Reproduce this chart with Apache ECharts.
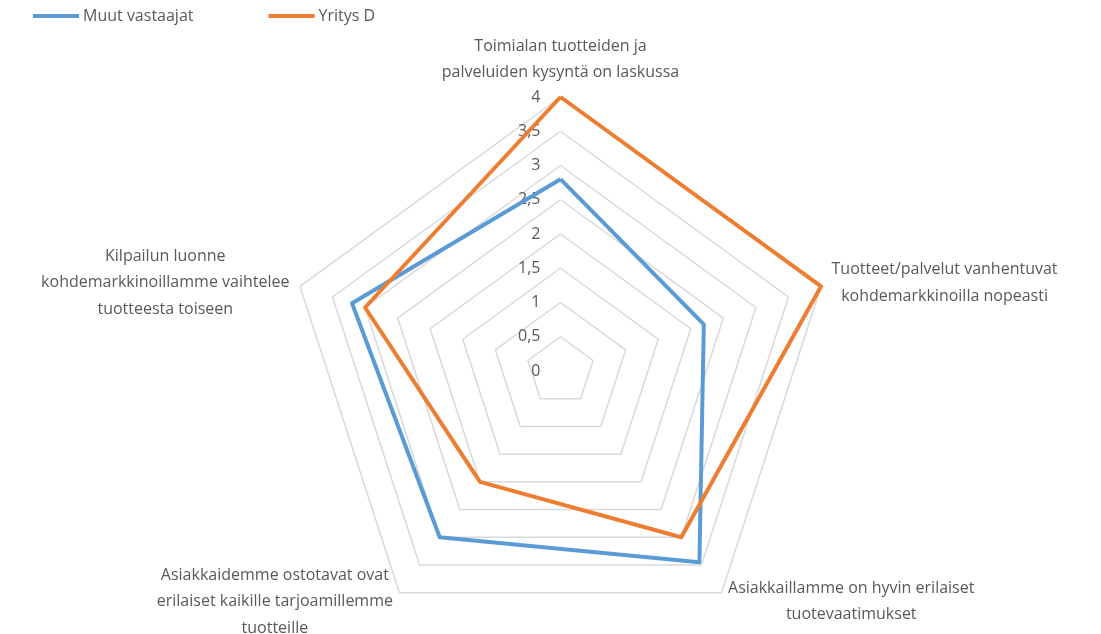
<!DOCTYPE html>
<html><head><meta charset="utf-8">
<script src="https://cdn.jsdelivr.net/npm/echarts@6/dist/echarts.min.js"></script>
<style>html,body{margin:0;padding:0;background:#fff}#c{width:1101px;height:634px}</style>
</head><body><div id="c"></div>
<script>
const categories = [
  'Toimialan tuotteiden ja\npalveluiden kysyntä on laskussa',
  'Kilpailun luonne\nkohdemarkkinoillamme vaihtelee\ntuotteesta toiseen',
  'Asiakkaidemme ostotavat ovat\nerilaiset kaikille tarjoamillemme\ntuotteille',
  'Asiakkaillamme on hyvin erilaiset\ntuotevaatimukset',
  'Tuotteet/palvelut vanhentuvat\nkohdemarkkinoilla nopeasti'
];
const seriesNames = ['Muut vastaajat', 'Yritys D'];
const muutVastaajat = [2.8, 3.2, 3.0, 3.45, 2.2];
const yritysD = [4.0, 3.0, 2.0, 3.0, 4.0];
const tickLabels = ['0','0,5','1','1,5','2','2,5','3','3,5','4'];
const axisMin = 0, axisMax = 4, axisStep = 0.5;

const FONT = 'Open Sans';
const FS = 16;

const center = [560.5, 371];
const radius = 274;

const chart = echarts.init(document.getElementById('c'));
chart.setOption({
  animation: false,
  color: ['#5B9BD5', '#ED7D31'],
  legend: {
    left: 28, top: 3,
    icon: 'rect', itemWidth: 46, itemHeight: 4, itemGap: 75,
    textStyle: { fontFamily: FONT, fontSize: FS, color: '#595959', padding: [0,0,0,-1] },
    data: seriesNames
  },
  radar: {
    center: center, radius: radius, startAngle: 90,
    shape: 'polygon', splitNumber: (axisMax - axisMin) / axisStep,
    indicator: categories.map(c => ({ name: c, min: axisMin, max: axisMax })),
    axisLine: { show: false },
    axisTick: { show: false },
    axisLabel: { show: false },
    splitArea: { show: false },
    splitLine: { lineStyle: { color: '#d9d9d9', width: 1.5 } },
    axisNameGap: 11,
    axisName: {
      color: '#595959', fontFamily: FONT, fontSize: FS,
      formatter: function (name) {
        return name.split('\n').map(l => '{a|' + l + '}').join('\n');
      },
      rich: { a: { fontFamily: FONT, fontSize: FS, color: '#595959', lineHeight: 26.5, align: 'center' } }
    }
  },
  polar: { center: center, radius: radius },
  angleAxis: { startAngle: 90, show: false, min: 0, max: 360 },
  radiusAxis: {
    min: axisMin, max: axisMax, interval: axisStep,
    axisLine: { show: false }, axisTick: { show: false }, splitLine: { show: false },
    axisLabel: {
      margin: 20, color: '#595959', fontFamily: FONT, fontSize: FS,
      formatter: function (v) { return tickLabels[Math.round((v - axisMin) / axisStep)]; }
    }
  },
  series: [{
    type: 'radar',
    symbol: 'none',
    lineStyle: { width: 4 },
    data: [
      { name: seriesNames[0], value: muutVastaajat, lineStyle: { width: 4, color: '#5B9BD5' }, itemStyle: { color: '#5B9BD5' } },
      { name: seriesNames[1], value: yritysD, lineStyle: { width: 4, color: '#ED7D31' }, itemStyle: { color: '#ED7D31' } }
    ]
  }]
});
</script></body></html>
